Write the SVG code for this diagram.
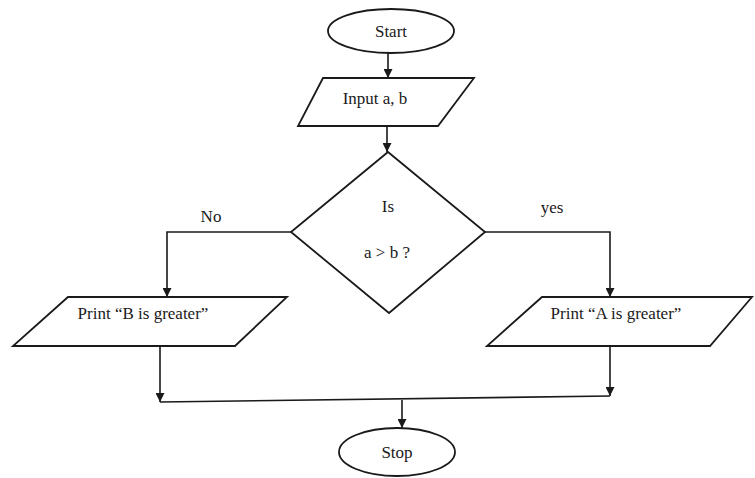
<svg xmlns="http://www.w3.org/2000/svg" width="755" height="478" viewBox="0 0 755 478">
<defs>
<marker id="ah" viewBox="0 0 10 10" refX="10" refY="5" markerWidth="9" markerHeight="9" markerUnits="userSpaceOnUse" orient="auto">
<path d="M0,0 L10,5 L0,10 Z" fill="#1a1a1a"/>
</marker>
</defs>
<style>
.s{fill:#fff;stroke:#1a1a1a;stroke-width:1.8}
.c{fill:none;stroke:#1a1a1a;stroke-width:1.6}
.t{font-family:"Liberation Serif","Times New Roman",serif;font-size:17px;fill:#1a1a1a;text-anchor:middle}
</style>
<rect width="755" height="478" fill="#fff"/>
<g id="connectors">
<line class="c" x1="388" y1="53" x2="388" y2="78" marker-end="url(#ah)"/>
<line class="c" x1="387" y1="126" x2="387" y2="152" marker-end="url(#ah)"/>
<polyline class="c" points="291,232 167,232 167,297" marker-end="url(#ah)"/>
<polyline class="c" points="485,232 610,232 610,297" marker-end="url(#ah)"/>
<line class="c" x1="160" y1="346" x2="160" y2="402" marker-end="url(#ah)"/>
<line class="c" x1="610" y1="346" x2="610" y2="396" marker-end="url(#ah)"/>
<line class="c" x1="160" y1="402" x2="610" y2="396"/>
<line class="c" x1="402" y1="400" x2="402" y2="428" marker-end="url(#ah)"/>
<text class="t" x="211" y="222">No</text>
<text class="t" x="552" y="213">yes</text>
</g>
<g id="start">
<ellipse class="s" cx="391" cy="31" rx="63" ry="22"/>
<text class="t" x="391" y="37">Start</text>
</g>
<g id="input">
<polygon class="s" points="323,78 474,78 438,126 298,126"/>
<text class="t" x="375" y="104">Input a, b</text>
</g>
<g id="decision">
<polygon class="s" points="388,152 485,232 389,313 291,232"/>
<text class="t" x="388" y="212">Is</text>
<text class="t" x="387" y="258">a &gt; b ?</text>
</g>
<g id="printB">
<polygon class="s" points="68,297 287,297 235,346 13,346"/>
<text class="t" x="143" y="319">Print “B is greater”</text>
</g>
<g id="printA">
<polygon class="s" points="542,297 752,297 710,346 487,346"/>
<text class="t" x="616" y="319">Print “A is greater”</text>
</g>
<g id="stop">
<ellipse class="s" cx="397" cy="452" rx="58" ry="24"/>
<text class="t" x="397" y="458">Stop</text>
</g>
</svg>
